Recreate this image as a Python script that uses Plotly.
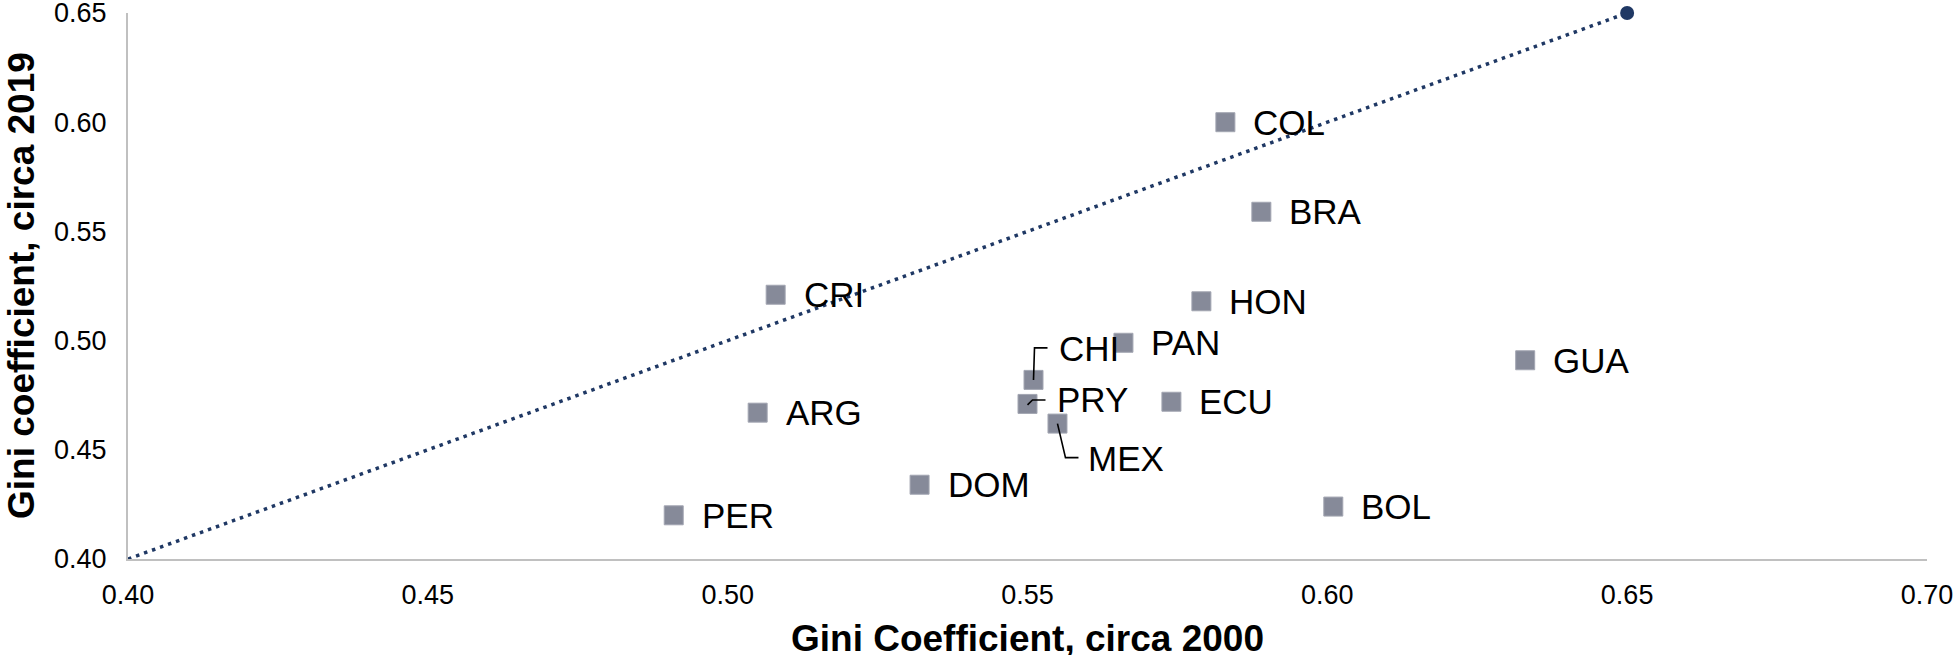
import plotly.graph_objects as go

# ---- data ----
countries = ["COL", "BRA", "CRI", "HON", "PAN", "CHI", "PRY", "MEX",
             "ECU", "GUA", "ARG", "DOM", "PER", "BOL"]
gini_2000 = [0.583, 0.589, 0.508, 0.579, 0.566, 0.551, 0.550, 0.555,
             0.574, 0.633, 0.505, 0.532, 0.491, 0.601]
gini_2019 = [0.600, 0.559, 0.521, 0.518, 0.499, 0.482, 0.471, 0.462,
             0.472, 0.491, 0.467, 0.434, 0.420, 0.424]
ref_line_x = [0.40, 0.65]
ref_line_y = [0.40, 0.65]
x_tick_vals = [0.40, 0.45, 0.50, 0.55, 0.60, 0.65, 0.70]
y_tick_vals = [0.40, 0.45, 0.50, 0.55, 0.60, 0.65]
x_title = "Gini Coefficient, circa 2000"
y_title = "Gini coefficient, circa 2019"

# ---- styles ----
FONT = "Liberation Sans, Arial, sans-serif"
NAVY = "#1f3864"
MARKER_FILL = "#868a99"
MARKER_EDGE = "#a3a6b2"
AXIS_COL = "#c0c0c0"

default_shift = (26, 0)
label_shift = {"CHI": (23, 31), "PRY": (27, 4), "MEX": (29, -35)}
leader_paths = {
    "CHI": "M0,0 L1,32 L14,32",
    "PRY": "M0,-1 L5,4 L18,4",
    "MEX": "M0,0 L8,-34 L21,-34",
}

fig = go.Figure()

# 45-degree reference line (dotted)
fig.add_trace(go.Scatter(
    x=ref_line_x, y=ref_line_y, mode="lines",
    line=dict(color=NAVY, width=3.5, dash="3.5px,5px"),
    hoverinfo="skip", showlegend=False, cliponaxis=False,
))
fig.add_trace(go.Scatter(
    x=ref_line_x[-1:], y=ref_line_y[-1:], mode="markers",
    marker=dict(color=NAVY, size=14, symbol="circle"),
    hoverinfo="skip", showlegend=False, cliponaxis=False,
))

# countries
fig.add_trace(go.Scatter(
    x=gini_2000, y=gini_2019, mode="markers",
    marker=dict(symbol="square", size=19, color=MARKER_FILL,
                line=dict(color=MARKER_EDGE, width=1)),
    text=countries, showlegend=False, cliponaxis=False,
))

annotations = []
shapes = []
for c, xv, yv in zip(countries, gini_2000, gini_2019):
    dx, dy = label_shift.get(c, default_shift)
    annotations.append(dict(
        x=xv, y=yv, xref="x", yref="y", text=c, showarrow=False,
        xanchor="left", yanchor="middle", xshift=dx, yshift=dy,
        font=dict(family=FONT, size=35, color="black"),
    ))
    if c in leader_paths:
        shapes.append(dict(
            type="path", xref="x", yref="y",
            xsizemode="pixel", ysizemode="pixel",
            xanchor=xv, yanchor=yv, path=leader_paths[c],
            line=dict(color="black", width=1.6), layer="above",
        ))

# axis titles
annotations.append(dict(
    x=0.5, y=0, xref="paper", yref="paper", text=f"<b>{x_title}</b>",
    showarrow=False, xanchor="center", yanchor="middle", yshift=-79,
    font=dict(family=FONT, size=37, color="black"),
))
annotations.append(dict(
    x=0, y=0.5, xref="paper", yref="paper", text=f"<b>{y_title}</b>",
    showarrow=False, xanchor="center", yanchor="middle", xshift=-107,
    textangle=-90, font=dict(family=FONT, size=37, color="black"),
))

fig.update_layout(
    width=1954, height=655,
    margin=dict(l=128, r=27, t=13, b=96, autoexpand=False),
    paper_bgcolor="white", plot_bgcolor="white",
    font=dict(family=FONT, color="black"),
    annotations=annotations, shapes=shapes,
    showlegend=False,
)
fig.update_xaxes(
    range=[0.39999, 0.70001], tickvals=x_tick_vals,
    ticktext=[f"{v:.2f}" for v in x_tick_vals],
    showgrid=False, zeroline=False, showline=True, automargin=False,
    linecolor=AXIS_COL, linewidth=2, ticks="",
    ticklabelstandoff=11, ticklabeloverflow="allow",
    tickfont=dict(family=FONT, size=27, color="black"),
)
fig.update_yaxes(
    range=[0.39999, 0.65001], tickvals=y_tick_vals,
    ticktext=[f"{v:.2f}" for v in y_tick_vals],
    showgrid=False, zeroline=False, showline=True, automargin=False,
    linecolor=AXIS_COL, linewidth=2, ticks="",
    ticklabelstandoff=14, ticklabeloverflow="allow",
    tickfont=dict(family=FONT, size=27, color="black"),
)

fig.write_html(
    "out.html",
    config={"displayModeBar": False},
    post_script="document.body.style.margin='0px';document.body.style.overflow='hidden';",
)
